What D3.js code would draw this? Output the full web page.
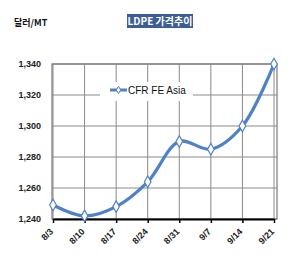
<!DOCTYPE html>
<html>
<head>
<meta charset="utf-8">
<script src="https://cdn.jsdelivr.net/npm/d3@7"></script>
<style>
  body { margin: 0; background: #fff; }
  svg { display: block; }
</style>
</head>
<body>
<script>
// Data
var dates = ["8/3", "8/10", "8/17", "8/24", "8/31", "9/7", "9/14", "9/21"];
var prices = [1249, 1242, 1248, 1264, 1290, 1285, 1300, 1340];
var yTicks = [1240, 1260, 1280, 1300, 1320, 1340];
var seriesName = "CFR FE Asia";
var titleText = "LDPE 가격추이";
var unitText = "달러/MT";

var W = 302, H = 259;
var margin = {top: 64, right: 25, bottom: 40, left: 52},
    width = W - margin.left - margin.right,
    height = H - margin.top - margin.bottom;

var svg = d3.select("body").append("svg")
    .attr("width", W)
    .attr("height", H);

var g = svg.append("g")
    .attr("transform", "translate(" + margin.left + "," + margin.top + ")");

var x = d3.scalePoint()
    .domain(dates)
    .range([1, width - 3]);

var y = d3.scaleLinear()
    .domain([1240, 1340])
    .range([height, 0]);

// horizontal gridlines
g.append("g")
    .selectAll("line")
    .data(yTicks)
    .enter().append("line")
    .attr("x1", 0)
    .attr("x2", width)
    .attr("y1", function(d) { return y(d); })
    .attr("y2", function(d) { return y(d); })
    .style("stroke", "#8a8a8a")
    .style("stroke-width", 1);

// vertical gridlines at each category
g.append("g")
    .selectAll("line")
    .data(dates)
    .enter().append("line")
    .attr("x1", function(d) { return x(d); })
    .attr("x2", function(d) { return x(d); })
    .attr("y1", 0)
    .attr("y2", height)
    .style("stroke", "#8a8a8a")
    .style("stroke-width", 1);

// plot border
g.append("rect")
    .attr("x", 0).attr("y", 0)
    .attr("width", width).attr("height", height)
    .style("fill", "none")
    .style("stroke", "#7a7a7a")
    .style("stroke-width", 1.2);

// y axis labels
g.append("g")
    .selectAll("text")
    .data(yTicks)
    .enter().append("text")
    .attr("x", -11)
    .attr("y", function(d) { return y(d); })
    .attr("dy", "0.35em")
    .attr("text-anchor", "end")
    .style("font", "bold 9px 'Liberation Sans', Arial, sans-serif")
    .style("fill", "#222")
    .text(d3.format(","));

// x axis
var xAxis = g.append("g")
    .attr("transform", "translate(0," + height + ")")
    .call(d3.axisBottom(x).tickSize(4).tickSizeOuter(0));
xAxis.select(".domain").style("stroke", "#000").style("stroke-width", 2);
xAxis.selectAll(".tick line").style("stroke", "#000").style("stroke-width", 1.5);
xAxis.selectAll(".tick text")
    .attr("transform", "translate(-2,11) rotate(-45)")
    .attr("text-anchor", "end")
    .attr("dy", "0.35em")
    .attr("y", 0)
    .attr("x", 0)
    .style("font", "bold 9px 'Liberation Sans', Arial, sans-serif")
    .style("fill", "#222");

// legend box
var legend = g.append("g")
    .attr("transform", "translate(" + (100 - margin.left) + "," + (82 - margin.top) + ")");
legend.append("rect")
    .attr("width", 93)
    .attr("height", 19)
    .style("fill", "#fff");
legend.append("line")
    .attr("x1", 10).attr("x2", 27)
    .attr("y1", 8).attr("y2", 8)
    .style("stroke", "#4f81c7")
    .style("stroke-width", 3);
legend.append("path")
    .attr("d", d3.symbol().type(d3.symbolDiamond).size(16)())
    .attr("transform", "translate(18.5,8)")
    .style("fill", "#fff")
    .style("stroke", "#4f81c7")
    .style("stroke-width", 1);
legend.append("text")
    .attr("x", 28)
    .attr("y", 8)
    .attr("dy", "0.35em")
    .style("font", "10px 'Liberation Sans', Arial, sans-serif")
    .style("fill", "#111")
    .text(seriesName);

// series line
var line = d3.line()
    .x(function(d, i) { return x(dates[i]); })
    .y(function(d) { return y(d); })
    .curve(d3.curveCatmullRom.alpha(0.5));

g.append("path")
    .datum(prices)
    .attr("d", line)
    .style("fill", "none")
    .style("stroke", "#4f81c7")
    .style("stroke-width", 3.2);

g.selectAll(".pt")
    .data(prices)
    .enter().append("path")
    .attr("class", "pt")
    .attr("d", d3.symbol().type(d3.symbolDiamond).size(38)())
    .attr("transform", function(d, i) { return "translate(" + x(dates[i]) + "," + y(d) + ")"; })
    .style("fill", "#fff")
    .style("stroke", "#4f81c7")
    .style("stroke-width", 1.2);

// title
var title = svg.append("g");
title.append("rect")
    .attr("x", 127).attr("y", 14)
    .attr("width", 66).attr("height", 14)
    .style("fill", "#3c5e93");
title.append("text")
    .attr("x", 160)
    .attr("y", 21.5)
    .attr("dy", "0.35em")
    .attr("text-anchor", "middle")
    .style("font", "bold 10px 'Noto Sans CJK KR', sans-serif")
    .style("fill", "#fff")
    .text(titleText);

// unit label
svg.append("text")
    .attr("x", 14)
    .attr("y", 23)
    .attr("dy", "0.35em")
    .style("font", "bold 9px 'Noto Sans CJK KR', sans-serif")
    .style("fill", "#111")
    .text(unitText);
</script>
</body>
</html>
